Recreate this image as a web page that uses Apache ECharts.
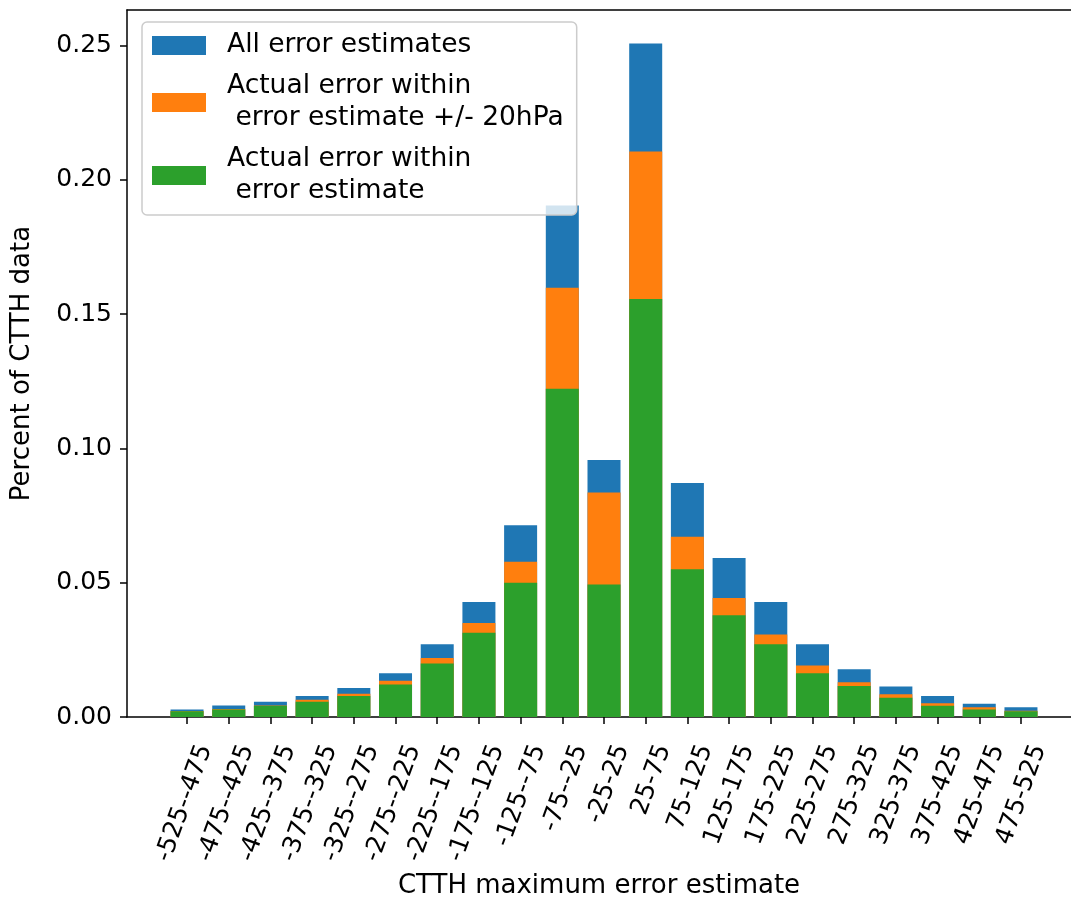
<!DOCTYPE html>
<html>
<head>
<meta charset="utf-8">
<script src="https://cdn.jsdelivr.net/npm/echarts@6/dist/echarts.min.js"></script>
<style>
html,body{margin:0;padding:0;background:#fff;}
#chart{width:1071px;height:904px;}
</style>
</head>
<body>
<div id="chart"></div>
<script>
const categories = ['-525--475','-475--425','-425--375','-375--325','-325--275','-275--225','-225--175','-175--125','-125--75','-75--25','-25-25','25-75','75-125','125-175','175-225','225-275','275-325','325-375','375-425','425-475','475-525'];
const allErrors = [0.0028,0.0043,0.0057,0.0078,0.0108,0.0163,0.0271,0.0428,0.0714,0.1904,0.0957,0.2507,0.0871,0.0592,0.0428,0.0271,0.0178,0.0114,0.0078,0.0049,0.0036];
const within20hPa = [0.0022,0.0030,0.0043,0.0064,0.0087,0.0135,0.0220,0.0350,0.0578,0.1598,0.0836,0.2105,0.0671,0.0443,0.0307,0.0192,0.0129,0.0085,0.0051,0.0036,0.0023];
const withinEstimate = [0.0021,0.0028,0.0042,0.0057,0.0078,0.0121,0.0199,0.0314,0.0500,0.1222,0.0493,0.1556,0.0550,0.0379,0.0271,0.0163,0.0115,0.0072,0.0042,0.0028,0.0021];
const yTicks = [0, 0.05, 0.10, 0.15, 0.20, 0.25];
const seriesNames = ['All error estimates', 'Actual error within\n error estimate +/- 20hPa', 'Actual error within\n error estimate'];
const colors = ['#1f77b4', '#ff7f0e', '#2ca02c'];

const FONT = 'DejaVu Sans';
const xIdx = categories.map((c, i) => i);
const toData = arr => arr.map((v, i) => [i, v]);

const chart = echarts.init(document.getElementById('chart'), null, {renderer: 'canvas'});
const axisLineStyle = {color: '#000', width: 1.5};
chart.setOption({
  animation: false,
  backgroundColor: '#fff',
  grid: {left: 127, top: 10, right: 0, bottom: 186, containLabel: false},
  xAxis: [{
    type: 'value', min: -1.44, max: 21.2, position: 'bottom',
    name: 'CTTH maximum error estimate', nameLocation: 'middle', nameGap: 156,
    nameTextStyle: {fontFamily: FONT, fontSize: 26, color: '#000'},
    axisLine: {show: true, onZero: false, lineStyle: axisLineStyle},
    axisTick: {show: true, length: 7, lineStyle: axisLineStyle, customValues: xIdx},
    axisLabel: {show: true, customValues: xIdx, rotate: 70, margin: 22, verticalAlign: 'top',
      padding: [7, 0, 0, 0],
      fontFamily: FONT, fontSize: 25, color: '#000',
      formatter: v => categories[Math.round(v)]},
    splitLine: {show: false}
  }, {
    type: 'value', min: -1.44, max: 21.2, position: 'top',
    axisLine: {show: true, onZero: false, lineStyle: axisLineStyle},
    axisTick: {show: false}, axisLabel: {show: false}, splitLine: {show: false}
  }],
  yAxis: {
    type: 'value', min: 0, max: 0.2632, position: 'left',
    name: 'Percent of CTTH data', nameLocation: 'middle', nameGap: 92,
    nameTextStyle: {fontFamily: FONT, fontSize: 26, color: '#000'},
    axisLine: {show: true, onZero: false, lineStyle: axisLineStyle},
    axisTick: {show: true, length: 7, lineStyle: axisLineStyle, customValues: yTicks},
    axisLabel: {customValues: yTicks, margin: 15, fontFamily: FONT, fontSize: 25, color: '#000',
      formatter: v => v.toFixed(2)},
    splitLine: {show: false}
  },
  legend: {
    orient: 'vertical', left: 142, top: 22,
    data: seriesNames,
    icon: 'rect', itemWidth: 54, itemHeight: 19, itemGap: 14,
    padding: [10, 13, 10, 10],
    backgroundColor: 'rgba(255,255,255,0.8)',
    borderColor: '#cccccc', borderWidth: 1.5, borderRadius: 5,
    selectedMode: false,
    formatter: name => (name === seriesNames[0] ? '{a|' : '{b|') + name + '}',
    textStyle: {fontFamily: FONT, fontSize: 26.5, color: '#000', padding: [0, 0, 0, 16],
      rich: {
        a: {fontFamily: FONT, fontSize: 26.5, color: '#000', lineHeight: 42},
        b: {fontFamily: FONT, fontSize: 26.5, color: '#000', lineHeight: 32}
      }}
  },
  series: [
    {name: seriesNames[0], type: 'bar', data: toData(allErrors), barWidth: 33, barGap: '-100%', itemStyle: {color: colors[0]}},
    {name: seriesNames[1], type: 'bar', data: toData(within20hPa), barWidth: 33, barGap: '-100%', itemStyle: {color: colors[1]}},
    {name: seriesNames[2], type: 'bar', data: toData(withinEstimate), barWidth: 33, barGap: '-100%', itemStyle: {color: colors[2]}}
  ]
});
</script>
</body>
</html>
